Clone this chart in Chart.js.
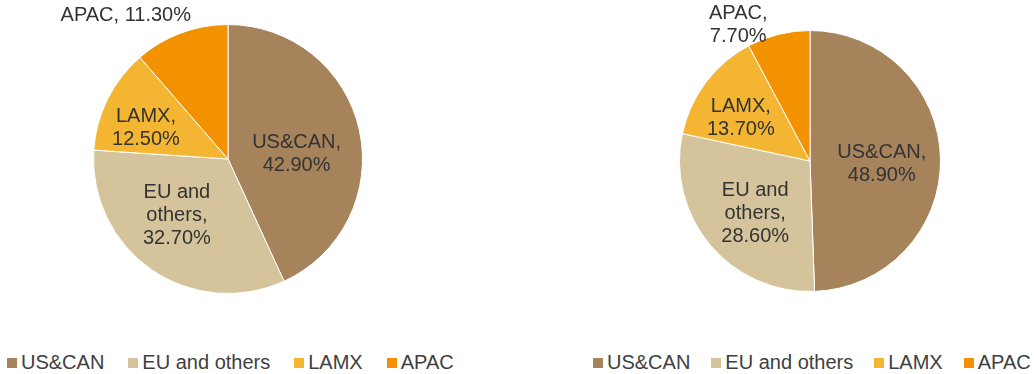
<!DOCTYPE html>
<html>
<head>
<meta charset="utf-8">
<script src="https://cdn.jsdelivr.net/npm/chart.js@4"></script>
<style>
  body { margin: 0; background: #fff; width: 1034px; height: 374px; overflow: hidden; position: relative; }
  .box { position: absolute; top: 0; width: 517px; height: 345px; }
  .legend { position: absolute; top: 351px; display: flex; align-items: center; white-space: nowrap;
            font-family: "Liberation Sans", Arial, sans-serif; font-size: 20px; color: #404040; }
  .legend .item { display: flex; align-items: center; }
  .legend .sw { width: 10px; height: 10px; margin-right: 4px; }
</style>
</head>
<body>
<div class="box" style="left:0"><canvas id="leftPie"></canvas></div>
<div class="box" style="left:517px"><canvas id="rightPie"></canvas></div>
<div class="legend" id="leftLegend" style="left:7px"></div>
<div class="legend" id="rightLegend" style="left:593px"></div>
<script>
// Data regional
const regions = ['US&CAN', 'EU and others', 'LAMX', 'APAC'];
const leftShares = [42.9, 32.7, 12.5, 11.3];
const rightShares = [48.9, 28.6, 13.7, 7.7];
const regionColors = ['#A6835B', '#D4C39B', '#F4B632', '#F39200'];

// Nama wilayah dipecah per baris untuk label di dalam pie
const nameLines = [['US&CAN'], ['EU and', 'others'], ['LAMX'], ['APAC']];

// Posisi label relatif terhadap pusat pie (kelipatan radius)
const leftLabelPos = [[0.51, -0.04], [-0.38, 0.42], [-0.61, -0.23], [-0.76, -1.07]];
const rightLabelPos = [[0.55, 0.02], [-0.42, 0.40], [-0.53, -0.33], [-0.55, -1.04]];

function labelLines(i, value, oneLine) {
    const lines = nameLines[i].slice();
    const pct = value.toFixed(2) + '%';
    if (oneLine) {
        lines[lines.length - 1] += ', ' + pct;
        return lines;
    }
    lines[lines.length - 1] += ',';
    lines.push(pct);
    return lines;
}

const pieLabels = {
    id: 'pieLabels',
    afterDraw(chart, args, opts) {
        const ctx = chart.ctx;
        const data = chart.data.datasets[0].data;
        ctx.save();
        ctx.font = '20px "Liberation Sans", Arial, sans-serif';
        ctx.fillStyle = '#333333';
        ctx.textAlign = 'center';
        ctx.textBaseline = 'middle';
        chart.getDatasetMeta(0).data.forEach((arc, i) => {
            const r = arc.outerRadius;
            const cx = arc.x + opts.pos[i][0] * r;
            const cy = arc.y + opts.pos[i][1] * r;
            const lines = labelLines(i, data[i], opts.oneLine.includes(i));
            const lh = 23;
            const y0 = cy - (lines.length - 1) * lh / 2;
            lines.forEach((t, k) => ctx.fillText(t, cx, y0 + k * lh));
        });
        ctx.restore();
    }
};

function makePie(id, values, pad, labelPos, oneLine) {
    return new Chart(document.getElementById(id), {
        type: 'pie',
        data: {
            labels: regions,
            datasets: [{
                data: values,
                backgroundColor: regionColors,
                borderColor: '#ffffff',
                borderWidth: 1
            }]
        },
        options: {
            responsive: true,
            maintainAspectRatio: false,
            animation: false,
            layout: { padding: pad },
            plugins: {
                legend: { display: false },
                tooltip: { enabled: false },
                pieLabels: { pos: labelPos, oneLine: oneLine }
            }
        },
        plugins: [pieLabels]
    });
}

makePie('leftPie', leftShares, { top: 24, bottom: 51, left: 93, right: 154 }, leftLabelPos, [3]);
makePie('rightPie', rightShares, { top: 30, bottom: 53, left: 162, right: 93 }, rightLabelPos, []);

// Legenda HTML
function buildLegend(id, gap) {
    const el = document.getElementById(id);
    regions.forEach((name, i) => {
        const item = document.createElement('div');
        item.className = 'item';
        item.style.marginRight = gap + 'px';
        const sw = document.createElement('span');
        sw.className = 'sw';
        sw.style.background = regionColors[i];
        const txt = document.createElement('span');
        txt.textContent = name;
        item.appendChild(sw);
        item.appendChild(txt);
        el.appendChild(item);
    });
}
buildLegend('leftLegend', 24);
buildLegend('rightLegend', 21);
</script>
</body>
</html>
